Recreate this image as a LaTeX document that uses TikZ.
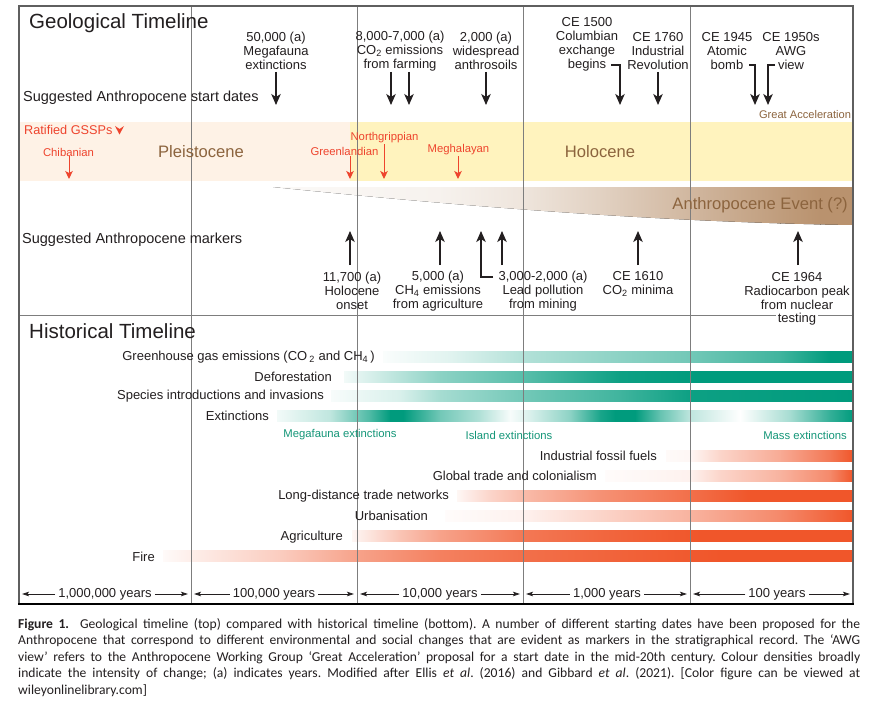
\documentclass[tikz,border=0pt]{standalone}
\usepackage{fontspec}
\setmainfont{Liberation Sans}
\newfontfamily\capfont{Carlito}
\usetikzlibrary{arrows.meta}
\definecolor{gtl}{RGB}{0,155,125}
\definecolor{gtxt}{RGB}{20,150,120}
\definecolor{org}{RGB}{240,86,42}
\definecolor{gred}{RGB}{238,68,45}
\definecolor{brn}{RGB}{140,100,62}
\definecolor{wedgec}{RGB}{185,146,110}
\definecolor{pleis}{RGB}{254,242,230}
\definecolor{holo}{RGB}{255,243,190}
\definecolor{ink}{RGB}{35,31,32}
\definecolor{vline}{RGB}{125,125,125}
\definecolor{framec}{RGB}{95,95,95}
% #1 colour, #2 top y, #3 bottom y, #4 list x/percent
\newcommand\gradbar[4]{%
  \foreach \xx/\pp [remember=\xx as \lx (initially -1), remember=\pp as \lp (initially 0)] in {#4}{%
    \ifdim\lx pt<0pt\relax\else
      \fill[left color=#1!\lp!white, right color=#1!\pp!white] (\lx,#2) rectangle (\xx+0.5,#3);
    \fi}}
\tikzset{
  lab/.style={font=\fontsize{13}{14}\selectfont, align=center, inner sep=0pt, text=ink},
  hlab/.style={font=\fontsize{13}{14}\selectfont, inner sep=0pt, text=ink, anchor=east},
  rowlab/.style={font=\fontsize{14.5}{16}\selectfont, inner sep=0pt, text=ink, anchor=west},
  ttl/.style={font=\fontsize{20.5}{24}\selectfont, inner sep=0pt, text=ink, anchor=west},
  epoch/.style={font=\fontsize{16.6}{18}\selectfont, inner sep=0pt, text=brn},
  redlab/.style={font=\fontsize{11.3}{12}\selectfont, inner sep=0pt, text=gred},
  grnlab/.style={font=\fontsize{11.3}{12}\selectfont, inner sep=0pt, text=gtxt},
  sclab/.style={font=\fontsize{13}{14}\selectfont, inner sep=3pt, text=ink},
  blk/.style={draw=ink, line width=1.2pt, -{Stealth[length=11pt,width=9.5pt,inset=3pt]}},
  redarr/.style={draw=gred, line width=1pt, -{Stealth[length=8pt,width=7.5pt,inset=2pt]}},
  scarr/.style={draw=ink, line width=0.8pt, -{Stealth[length=7pt,width=4.5pt,inset=1.5pt]}},
  vl/.style={draw=vline, line width=0.9pt},
}
\begin{document}
\begin{tikzpicture}[x=1pt,y=-1pt]
\useasboundingbox (0,0) rectangle (878,706);
\fill[white] (0,0) rectangle (878,706);
% bands
\fill[pleis] (19,122) rectangle (350,181);
\fill[holo] (350,122) rectangle (853,181);
% Anthropocene event wedge
\begin{scope}
\clip (273,187) -- (853,187) -- (853,225) .. controls (650,222) and (450,205) .. (273,187) -- cycle;
\gradbar{wedgec}{186}{226}{273/5, 440/12, 523/24, 600/42, 690/66, 780/90, 820/100, 854/100}
\end{scope}
% green bars
\gradbar{gtl}{351.5}{362.5}{383/2, 450/12, 523/30, 600/42, 690/55, 780/75, 830/100, 853/100}
\gradbar{gtl}{371.5}{382.5}{344/5, 380/20, 440/45, 523/65, 620/95, 700/100, 853/100}
\gradbar{gtl}{390.5}{401.5}{331/3, 400/15, 440/35, 523/55, 620/75, 690/95, 853/100}
\gradbar{gtl}{410.5}{421.5}{277/5, 330/25, 370/70, 390/100, 403/100, 440/55, 480/30, 510/3, 530/15, 570/45, 600/90, 615/100, 635/100, 660/60, 690/25, 740/0, 790/35, 830/80, 853/100}
% orange bars
\gradbar{org}{450.5}{461.5}{666/3, 690/5, 720/25, 780/50, 830/80, 853/100}
\gradbar{org}{470.5}{481.5}{605/2, 690/8, 720/25, 780/45, 830/70, 853/100}
\gradbar{org}{490.5}{501.5}{457/5, 490/25, 523/40, 600/65, 690/85, 750/100, 853/100}
\gradbar{org}{510.5}{521.5}{445/2, 523/8, 600/25, 690/45, 780/70, 853/100}
\gradbar{org}{530.5}{541.5}{352/5, 400/35, 440/55, 523/80, 600/90, 700/100, 853/100}
\gradbar{org}{550.5}{561.5}{163/3, 191/10, 280/30, 357/55, 440/75, 523/85, 650/95, 720/100, 853/100}
% vertical period lines and divider
\foreach \vx in {191,357,523,690} \draw[vl] (\vx,6) -- (\vx,604);
\draw[vl] (19,315) -- (853,315);

% ---------- Geological timeline ----------
\node[ttl] (geo) at (29,23) {Geological Timeline};
\node[rowlab] (sasd) at (23,98) {Suggested Anthropocene start dates};

\node[lab] (l50) at (276,51) {50,000 (a)\\Megafauna\\extinctions};
\node[lab] (lco2) at (400,51) {8,000-7,000 (a)\\CO\textsubscript{2} emissions\\from farming};
\node[lab] (lsoil) at (486,51) {2,000 (a)\\widespread\\anthrosoils};
\node[lab] (l1500) at (587,44) {CE 1500\\Columbian\\exchange\\begins};
\node[lab] (l1760) at (658,51) {CE 1760\\Industrial\\Revolution};
\node[lab] (l1945) at (727,51) {CE 1945\\Atomic\\bomb};
\node[lab] (l1950) at (791,51) {CE 1950s\\AWG\\view};
\node[font=\fontsize{11.1}{12}\selectfont, text=brn, inner sep=0pt] (ga) at (805,115) {Great Acceleration};

\coordinate (a50s) at (276,72);   \coordinate (a50t) at (276,105);
\coordinate (ac1s) at (391,72);   \coordinate (ac1t) at (391,105);
\coordinate (ac2s) at (409,72);   \coordinate (ac2t) at (409,105);
\coordinate (asls) at (486,72);   \coordinate (aslt) at (486,105);
\coordinate (b15a) at (611,65);   \coordinate (b15b) at (620,65);   \coordinate (a15t) at (620,105);
\coordinate (a17s) at (658,72);   \coordinate (a17t) at (658,105);
\coordinate (b45a) at (749,65);   \coordinate (b45b) at (755,65);   \coordinate (a45t) at (755,105);
\coordinate (b50a) at (775,65);   \coordinate (b50b) at (768,65);   \coordinate (a50bt) at (768,105);
\draw[blk] (a50s) -- (a50t);
\draw[blk] (ac1s) -- (ac1t);
\draw[blk] (ac2s) -- (ac2t);
\draw[blk] (asls) -- (aslt);
\draw[blk] (b15a) -- (b15b) -- (a15t);
\draw[blk] (a17s) -- (a17t);
\draw[blk] (b45a) -- (b45b) -- (a45t);
\draw[blk] (b50a) -- (b50b) -- (a50bt);

% GSSPs
\node[font=\fontsize{12.7}{14}\selectfont, text=gred, inner sep=0pt, anchor=west] (gssp) at (24,130) {Ratified GSSPs};
\fill[gred] (115,126) -- (119.5,134.5) -- (124,126) -- (119.5,129) -- cycle;
\node[redlab] (chib) at (68.5,152) {Chibanian};
\node[redlab] (greenl) at (344.5,151) {Greenlandian};
\node[redlab] (northg) at (384.5,138) {Northgrippian};
\node[redlab] (megh) at (458.5,150) {Meghalayan};
\coordinate (rch) at (69,179);
\coordinate (rgr) at (350,179);
\coordinate (rng) at (384,179);
\coordinate (rme) at (458,179);
\draw[redarr] (chib.south -| rch) -- (rch);
\draw[redarr] (greenl.south -| rgr) ++(0,1) -- (rgr);
\draw[redarr] (northg.south -| rng) ++(0,1) -- (rng);
\draw[redarr] (megh.south -| rme) ++(0,1) -- (rme);
\node[epoch] (pleist) at (201,152) {Pleistocene};
\node[epoch] (holoc) at (600,152) {Holocene};
\node[epoch, anchor=east] (anev) at (848,205) {Anthropocene Event (?)};

% markers
\node[rowlab] (sam) at (22,240) {Suggested Anthropocene markers};
\node[lab] (m117) at (352,291) {11,700 (a)\\Holocene\\onset};
\node[lab] (m5000) at (438,291) {5,000 (a)\\CH\textsubscript{4} emissions\\from agriculture};
\node[lab] (mlead) at (543,291) {3,000-2,000 (a)\\Lead pollution\\from mining};
\node[lab] (m1610) at (638,284) {CE 1610\\CO\textsubscript{2} minima};
\node[lab] (m1964) at (797,291) {CE 1964\\Radiocarbon peak\\from nuclear};
\node[lab, fill=white, inner xsep=2pt, inner ysep=1pt] (mtest) at (797,319) {testing};
\coordinate (u117s) at (350,265); \coordinate (u117t) at (350,231);
\coordinate (u5s) at (440,265);   \coordinate (u5t) at (440,231);
\coordinate (ula) at (493,277);   \coordinate (ulb) at (481,277); \coordinate (ult) at (481,231);
\coordinate (u2s) at (502,265);   \coordinate (u2t) at (502,231);
\coordinate (u16s) at (638,265);  \coordinate (u16t) at (638,231);
\coordinate (u64s) at (798,265);  \coordinate (u64t) at (798,231);
\draw[blk] (u117s) -- (u117t);
\draw[blk] (u5s) -- (u5t);
\draw[blk] (ula) -- (ulb) -- (ult);
\draw[blk] (u2s) -- (u2t);
\draw[blk] (u16s) -- (u16t);
\draw[blk] (u64s) -- (u64t);

% ---------- Historical timeline ----------
\node[ttl] (hist) at (29,331) {Historical Timeline};
\node[hlab] (hghg) at (375,357) {Greenhouse gas emissions (CO\,\textsubscript{2} and CH\textsubscript{4}\,)};
\node[hlab] (hdef) at (332,377) {Deforestation};
\node[hlab] (hspe) at (324,396) {Species introductions and invasions};
\node[hlab] (hext) at (269,416) {Extinctions};
\node[grnlab] (gmeg) at (340,435) {Megafauna extinctions};
\node[grnlab] (gisl) at (509,435) {Island extinctions};
\node[grnlab, anchor=east] (gmas) at (847,435) {Mass extinctions};
\node[hlab] (hind) at (657,456) {Industrial fossil fuels};
\node[hlab] (hglo) at (597,476) {Global trade and colonialism};
\node[hlab] (hlon) at (449,496) {Long-distance trade networks};
\node[hlab] (hurb) at (428,516) {Urbanisation};
\node[hlab] (hagr) at (343,537) {Agriculture};
\node[hlab] (hfir) at (155,557) {Fire};

% scale
\node[sclab] (s1) at (105,594) {1,000,000 years};
\node[sclab] (s2) at (274,594) {100,000 years};
\node[sclab] (s3) at (440,594) {10,000 years};
\node[sclab] (s4) at (607,594) {1,000 years};
\node[sclab] (s5) at (777,594) {100 years};
\coordinate (s1l) at (22,594);  \coordinate (s1r) at (188,594);
\coordinate (s2l) at (194,594); \coordinate (s2r) at (354,594);
\coordinate (s3l) at (360,594); \coordinate (s3r) at (520,594);
\coordinate (s4l) at (526,594); \coordinate (s4r) at (687,594);
\coordinate (s5l) at (693,594); \coordinate (s5r) at (850,594);
\foreach \s in {1,...,5}{
  \draw[scarr] (s\s.west) -- (s\s l);
  \draw[scarr] (s\s.east) -- (s\s r);
}

% frame
\draw[framec, line width=1.6pt] (19,604) -- (19,6) -- (853,6) -- (853,604);
\draw[black, line width=2.2pt] (18.2,604) -- (853.8,604);

% caption
\node[anchor=north west, inner sep=0pt, text width=842pt, align=justify,
      font=\capfont\fontsize{13.6}{16.5}\selectfont\frenchspacing, text=ink] (cap) at (18,618)
{\textbf{Figure 1.}\ \ Geological timeline (top) compared with historical timeline (bottom). A number of different starting dates have been proposed for the\linebreak
Anthropocene that correspond to different environmental and social changes that are evident as markers in the stratigraphical record. The ‘AWG\linebreak
view’ refers to the Anthropocene Working Group ‘Great Acceleration’ proposal for a start date in the mid-20th century. Colour densities broadly\linebreak
indicate the intensity of change; (a) indicates years. Modified after Ellis \textit{et al}. (2016) and Gibbard \textit{et al}. (2021). [Color figure can be viewed at\linebreak
wileyonlinelibrary.com]};
\end{tikzpicture}
\end{document}
